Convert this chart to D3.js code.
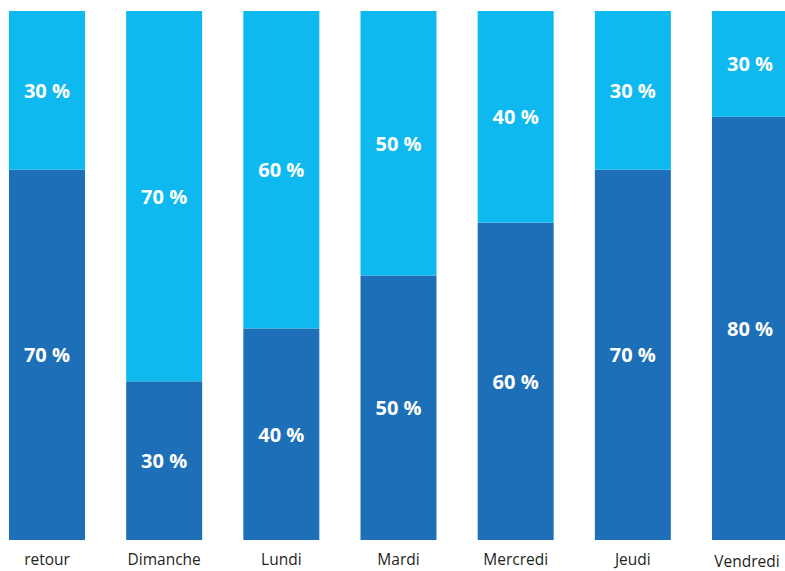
<!DOCTYPE html>
<html><head><meta charset="utf-8">
<script src="https://cdn.jsdelivr.net/npm/d3@7"></script>
<style>body{margin:0;background:#fff}svg{display:block}</style>
</head><body>
<script>
const categories = ["retour","Dimanche","Lundi","Mardi","Mercredi","Jeudi","Vendredi"];
const darkValues = [70,30,40,50,60,70,80];
const lightValues = [30,70,60,50,40,30,20];
const darkLabels = ["70 %","30 %","40 %","50 %","60 %","70 %","80 %"];
const lightLabels = ["30 %","70 %","60 %","50 %","40 %","30 %","30 %"];
const seriesKeys = ["dark","light"];

const W = 785, H = 571;
const svg = d3.select("body").append("svg").attr("width", W).attr("height", H);

const x = d3.scaleBand().domain(categories).range([9, 788]).paddingInner(0.3515).paddingOuter(0);
const y = d3.scaleLinear().domain([0,100]).range([540, 11]);
const color = {dark:"#1D70B7", light:"#0DB9EE"};
const labels = {dark:darkLabels, light:lightLabels};

const table = categories.map((c,i)=>({cat:c, idx:i, dark:darkValues[i], light:lightValues[i]}));
const stacked = d3.stack().keys(seriesKeys)(table);

const g = svg.append("g");
stacked.forEach(s=>{
  g.selectAll(null).data(s).enter().append("rect")
    .attr("x", d=>x(d.data.cat))
    .attr("width", x.bandwidth())
    .attr("y", d=>y(d[1]))
    .attr("height", d=>y(d[0])-y(d[1]))
    .attr("fill", color[s.key]);
  g.selectAll(null).data(s).enter().append("text")
    .attr("x", d=>x(d.data.cat)+x.bandwidth()/2)
    .attr("y", d=>(y(d[0])+y(d[1]))/2)
    .attr("text-anchor","middle")
    .attr("dominant-baseline","central")
    .attr("fill","#fff")
    .attr("font-family","'Open Sans', sans-serif")
    .attr("font-weight","700")
    .attr("font-size","20px")
    .text(d=>labels[s.key][d.data.idx]);
});

const axis = d3.axisBottom(x).tickSize(0).tickPadding(0);
const ax = svg.append("g").attr("transform","translate(0,554)").call(axis);
ax.select(".domain").remove();
ax.selectAll("text")
  .attr("font-family","'Open Sans', sans-serif")
  .attr("font-size","15.5px")
  .attr("fill","#231F20")
  .attr("dy","0.71em")
  .attr("x", d=> d==="Vendredi" ? -3 : 0)
  .attr("y", d=> d==="Vendredi" ? 1.5 : 0);
</script>
</body></html>
